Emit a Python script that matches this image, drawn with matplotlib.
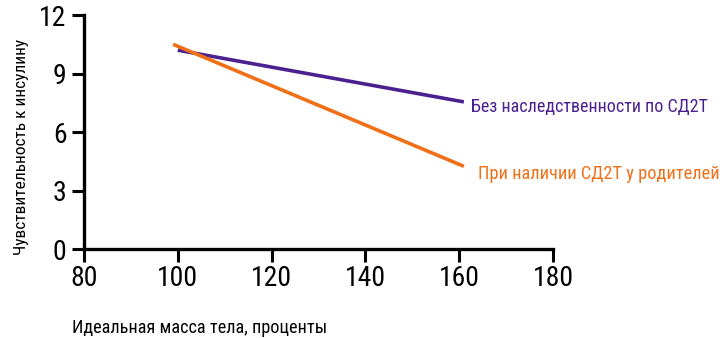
"""
Чувствительность к инсулину в зависимости от идеальной массы тела.
"""
import os
import matplotlib
matplotlib.use("Agg")
import matplotlib.pyplot as plt
from matplotlib import font_manager
from matplotlib.font_manager import FontProperties

# Данные
mass_no_hist = [100, 161]
sens_no_hist = [10.2, 7.55]
mass_parents = [99, 161]
sens_parents = [10.5, 4.25]

label_no_hist = "Без наследственности по СД2Т"
label_parents = "При наличии СД2Т у родителей"
xlabel = "Идеальная масса тела, проценты"
ylabel = "Чувствительность к инсулину"

x_ticks = [80, 100, 120, 140, 160, 180]
y_ticks = [0, 3, 6, 9, 12]

PURPLE = "#4b2190"
ORANGE = "#f07018"


def pick_font():
    """Ищем узкий (condensed) шрифт с кириллицей, иначе DejaVu Condensed."""
    files = [f.fname for f in font_manager.fontManager.ttflist]
    bad = ("bold", "italic", "light", "thin", "black", "medium", "semi",
           "extra", "ultra", "mono", "oblique", "cjk", "display", "serif")
    prefs = ["notosans", "opensans", "roboto", "liberationsans", "dejavusans"]
    for pref in prefs:
        for fn in files:
            base = os.path.basename(fn).lower().replace("_", "").replace(" ", "")
            if not base.startswith(pref):
                continue
            if "condensed" not in base and "narrow" not in base:
                continue
            if any(b in base for b in bad):
                continue
            return FontProperties(fname=fn)
    return FontProperties(family="DejaVu Sans", stretch="condensed")


FP = pick_font()


def fp(size):
    p = FP.copy()
    p.set_size(size)
    return p


def fit(fig, txt, target, vertical=False):
    """Подгоняем размер шрифта под ширину текста на эталоне (в пикселях)."""
    r = fig.canvas.get_renderer()
    for _ in range(3):
        bb = txt.get_window_extent(renderer=r)
        cur = bb.height if vertical else bb.width
        txt.set_fontsize(txt.get_fontsize() * target / cur)


fig = plt.figure(figsize=(7.2, 3.38), dpi=100)
ax = fig.add_axes([0.1167, 0.2624, 0.768 - 0.1167, 0.9556 - 0.2624])

ax.plot(mass_no_hist, sens_no_hist, color=PURPLE, linewidth=2.6,
        solid_capstyle="butt")
ax.plot(mass_parents, sens_parents, color=ORANGE, linewidth=2.6,
        solid_capstyle="butt")

t1 = ax.annotate(label_no_hist, (mass_no_hist[-1], sens_no_hist[-1]),
                 xytext=(7, -10), textcoords="offset pixels",
                 color=PURPLE, fontproperties=fp(15), va="baseline",
                 ha="left", annotation_clip=False)
t2 = ax.annotate(label_parents, (mass_parents[-1], sens_parents[-1]),
                 xytext=(14, -13), textcoords="offset pixels",
                 color=ORANGE, fontproperties=fp(15), va="baseline",
                 ha="left", annotation_clip=False)

ax.set_xlim(80, 180)
ax.set_ylim(0, 12)
ax.set_xticks(x_ticks, [str(v) for v in x_ticks], fontproperties=fp(20))
ax.set_yticks(y_ticks, [str(v) for v in y_ticks], fontproperties=fp(20))
ax.tick_params(axis="both", direction="out", length=9, width=2.2,
               color="black")
ax.tick_params(axis="x", pad=2.5)
ax.tick_params(axis="y", pad=3.5)

for side in ["top", "right"]:
    ax.spines[side].set_visible(False)
for side in ["left", "bottom"]:
    ax.spines[side].set_linewidth(2.4)
    ax.spines[side].set_capstyle("projecting")

tx = fig.text(72 / 720, 1 - 333 / 338, xlabel, fontproperties=fp(15),
              ha="left", va="baseline")
ty = fig.text(22 / 720, 1 - 147 / 338, ylabel, fontproperties=fp(15),
              ha="center", va="center", rotation=90)

fig.canvas.draw()
# подгонка размеров под эталон
fit(fig, t1, 236)
fit(fig, t2, 240)
fit(fig, tx, 255)
fit(fig, ty, 216, vertical=True)

plt.savefig("out.png", dpi=100)
plt.close()
